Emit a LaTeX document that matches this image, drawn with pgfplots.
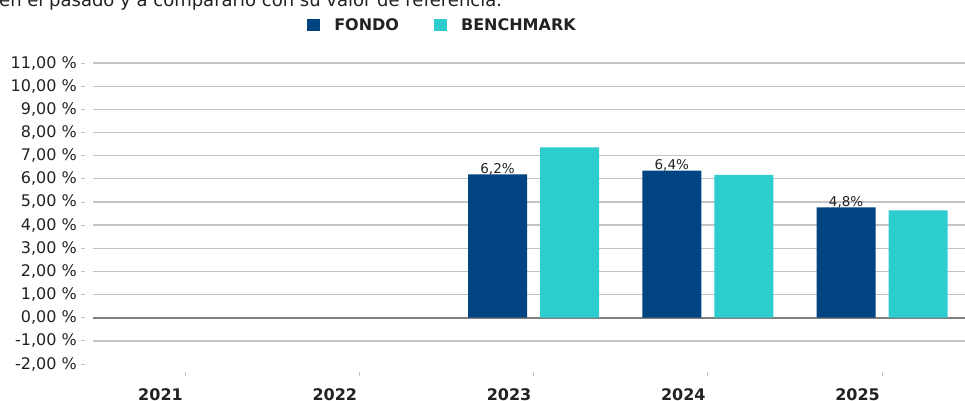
\documentclass[border=0pt]{standalone}
\usepackage{pgfplots}
\pgfplotsset{compat=1.18}
\usepackage{fontspec}
\setmainfont{DejaVu Sans}
\definecolor{fondo}{HTML}{004481}
\definecolor{bench}{HTML}{2DCCCD}
\definecolor{gridc}{HTML}{C4C4C4}
\definecolor{txt}{HTML}{222222}
\begin{document}
\begin{tikzpicture}
\useasboundingbox (0,0) rectangle (965pt,400pt);
\node[anchor=base west, inner sep=0pt, font=\fontsize{18}{20}\selectfont, text=txt] at (-1pt,393pt) {en el pasado y a compararlo con su valor de referencia.};
\begin{axis}[
  at={(93pt,36pt)}, anchor=south west,
  scale only axis, width=872pt, height=301pt,
  xmin=-0.528, xmax=4.476, ymin=-2, ymax=11,
  axis lines*=left,
  axis line style={draw=none},
  /pgf/number format/assume math mode=true,
  tick align=outside,
  ytick={-2,...,11},
  yticklabel={\pgfmathprintnumber[fixed,fixed zerofill,precision=2,use comma]{\tick}~\%},
  yticklabel style={font=\fontsize{16}{18}\selectfont, text=txt, anchor=east, inner sep=0pt, xshift=-12pt},
  ytick style={gridc, line width=0.8pt, xshift=-8pt},
  major tick length=4pt,
  extra y ticks={-1,0,...,11},
  extra y tick labels={},
  extra y tick style={grid=major, ytick style={draw=none}, grid style={gridc, line width=1.3pt}},
  xtick={0,...,4},
  xticklabels={2021,2022,2023,2024,2025},
  xticklabel style={font=\bfseries\fontsize{16}{18}\selectfont, text=txt, anchor=base, inner sep=0pt, xshift=-24.5pt, yshift=-32pt},
  xtick style={gridc, line width=0.8pt, yshift=-8pt},
  legend columns=2,
  legend style={draw=none, fill=none, at={(0.4008,1.126)}, anchor=center,
    font=\bfseries\fontsize{16}{18}\selectfont, text=txt,
    /tikz/every odd column/.append style={column sep=12pt},
    /tikz/every even column/.append style={column sep=33pt}},
  legend image code/.code={\fill[#1] (0pt,-6pt) rectangle (13pt,6pt);},
  every node near coord/.append style={font=\fontsize{13.5}{15}\selectfont, text=txt, anchor=base, yshift=1pt},
]
\draw[black!50, line width=1.8pt] (axis cs:-0.528,0) -- (axis cs:4.476,0);
\addplot[ybar, bar width=59pt, bar shift=-36pt, fill=fondo, draw=none,
  nodes near coords, point meta=explicit symbolic,
  every node near coord/.append style={xshift=-36pt}]
  coordinates {(2,6.19)[6,2\%] (3,6.35)[6,4\%] (4,4.76)[4,8\%]};
\addlegendentry{FONDO}
\addplot[ybar, bar width=59pt, bar shift=36pt, fill=bench, draw=none]
  coordinates {(2,7.36) (3,6.17) (4,4.63)};
\addlegendentry{BENCHMARK}
\end{axis}
\end{tikzpicture}
\end{document}
